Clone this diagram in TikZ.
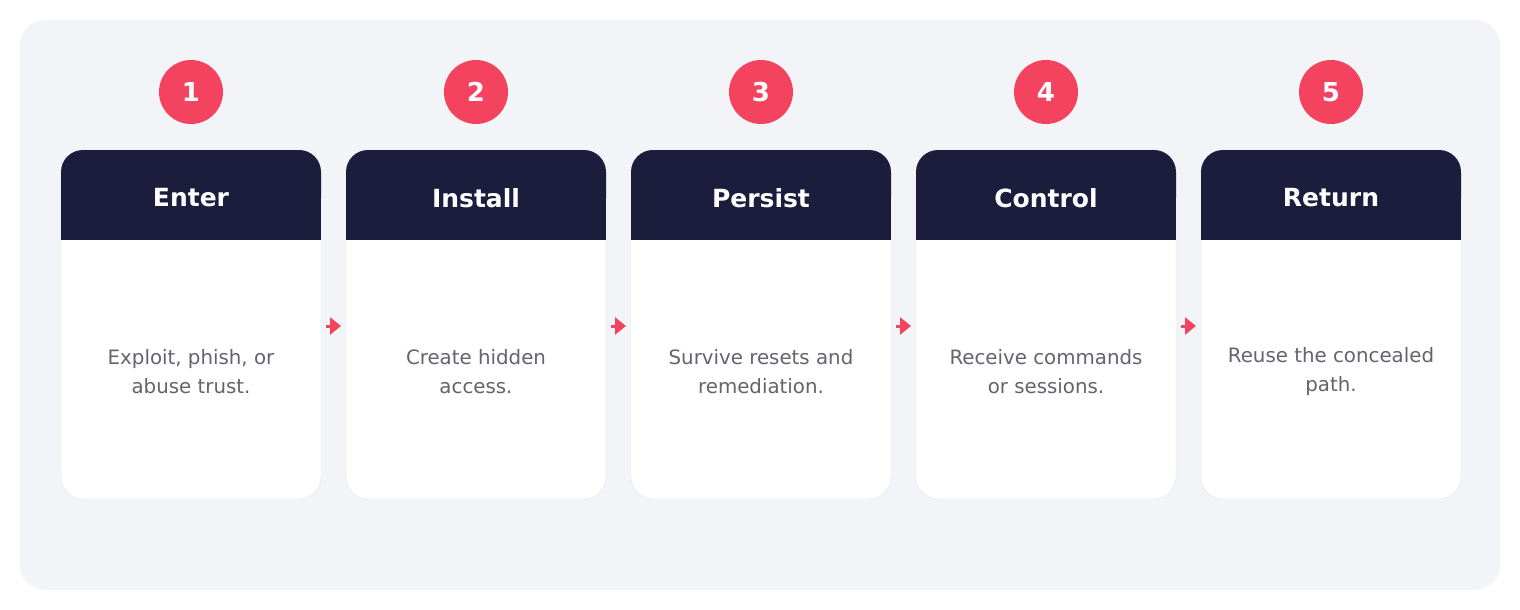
\documentclass[tikz,border=0pt]{standalone}
\usepackage{fontspec}
\setmainfont{DejaVu Sans}
\usetikzlibrary{arrows.meta}
\definecolor{bgp}{HTML}{F3F4F8}
\definecolor{navy}{HTML}{1C1C3D}
\definecolor{pink}{HTML}{F4435F}
\definecolor{txt}{HTML}{63646E}
\definecolor{brd}{HTML}{E3E4EA}
\begin{document}
\begin{tikzpicture}[x=1pt,y=-1pt,
  num/.style={circle,fill=pink,minimum size=64pt,inner sep=0,text=white,font=\fontsize{26}{26}\selectfont\bfseries},
  title/.style={text=white,font=\fontsize{25}{25}\selectfont\bfseries},
  body/.style={text=txt,align=center,font=\fontsize{19.8}{29}\selectfont},
  arr/.style={draw=pink,line width=3pt,-{Triangle[length=11pt,width=17pt]}}]
\useasboundingbox (0,0) rectangle (1520,610);
\fill[bgp,rounded corners=25pt] (20,20) rectangle (1500,590);
\foreach \i/\t/\b in {0/Enter/{Exploit, phish, or\\abuse trust.},1/Install/{Create hidden\\access.},2/Persist/{Survive resets and\\remediation.},3/Control/{Receive commands\\or sessions.},4/Return/{Reuse the concealed\\path.}}{
  \pgfmathsetmacro\xl{61+285*\i}
  \pgfmathsetmacro\xc{\xl+130}
  \draw[brd,fill=white,rounded corners=22pt] (\xl,150) rectangle ++(260,349);
  \fill[navy,rounded corners=22pt] (\xl,150) rectangle ++(260,70);
  \fill[navy] (\xl,200) rectangle ++(260,40);
  \node[num] (n\i) at (\xc,92) {\pgfmathparse{int(\i+1)}\pgfmathresult};
  \node[title] (t\i) at (\xc,198) {\t};
  \node[body] (b\i) at (\xc,372) {\b};
  \coordinate (r\i) at (\xl+265,326);
  \coordinate (l\i) at (\xl+280,326);
}
\foreach \i in {0,...,3}{ \draw[arr] (r\i) -- (l\i); }
\end{tikzpicture}
\end{document}
